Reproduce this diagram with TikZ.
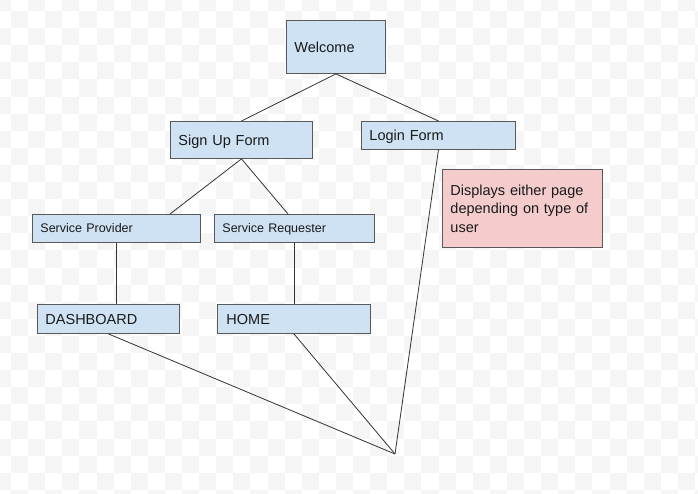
\documentclass[tikz,border=0pt]{standalone}
\usepackage{fontspec}
\setmainfont{Liberation Sans}
\usetikzlibrary{calc}
\definecolor{boxblue}{HTML}{CFE2F3}
\definecolor{notered}{HTML}{F4CCCC}
\definecolor{edgegray}{HTML}{595959}
\definecolor{linegray}{HTML}{333333}
\definecolor{txt}{HTML}{1A1A1A}
\definecolor{chk}{HTML}{F5F5F5}
\begin{document}
\begin{tikzpicture}[x=1pt,y=-1pt,
  boxbase/.style={draw=edgegray,line width=0.9pt,anchor=north west,inner xsep=8pt,inner ysep=0pt,align=left,text=txt,font=\fontsize{14.5}{18.5}\selectfont},
  bluebox/.style={boxbase,fill=boxblue,text depth=0pt},
  notebox/.style={boxbase,fill=notered},
  smalltext/.style={font=\fontsize{12.5}{15}\selectfont},
  conn/.style={draw=linegray,line width=0.8pt}]
\useasboundingbox (0,0) rectangle (698,493);
\fill[white] (0,0) rectangle (698,493);
% faint checkerboard background
\foreach \i in {-1,...,40}{
  \foreach \j in {-1,...,28}{
    \pgfmathtruncatemacro{\pty}{mod(\i+\j+100,2)}
    \ifnum\pty=0
      \fill[chk] ({11+17.1*\i},{11+17.1*\j}) rectangle ++(17.1,17.1);
    \fi
  }
}
\node[bluebox,text width=83pt,minimum height=53pt] (welcome) at (286,20) {Welcome};
\node[bluebox,text width=126pt,minimum height=37pt] (signup) at (170,121) {Sign Up Form};
\node[bluebox,text width=138pt,minimum height=28pt] (login) at (361,121) {Login Form};
\node[bluebox,smalltext,text width=152pt,minimum height=28pt] (sp) at (32,214) {Service Provider};
\node[bluebox,smalltext,text width=144pt,minimum height=28pt] (sr) at (214,214) {Service Requester};
\node[bluebox,text width=126pt,minimum height=29pt] (dash) at (37,304) {DASHBOARD};
\node[bluebox,inner xsep=9pt,text width=135pt,minimum height=29pt] (home) at (217,304) {HOME};
\node[notebox,text width=144pt,minimum height=78pt] (note) at (442,169) {Displays either page\\depending on type of\\user};
\coordinate (meet) at (395,454);
\draw[conn] (welcome.south) -- (signup.north);
\draw[conn] (welcome.south) -- (login.north);
\draw[conn] (signup.south) -- ([xshift=138pt]sp.north west);
\draw[conn] (signup.south) -- ([xshift=74pt]sr.north west);
\draw[conn] (sp.south) -- (sp.south |- dash.north);
\draw[conn] (sr.south) -- (sr.south |- home.north);
\draw[conn] (dash.south) -- (meet);
\draw[conn] (home.south) -- (meet);
\draw[conn] (login.south) -- (meet);
\end{tikzpicture}
\end{document}
